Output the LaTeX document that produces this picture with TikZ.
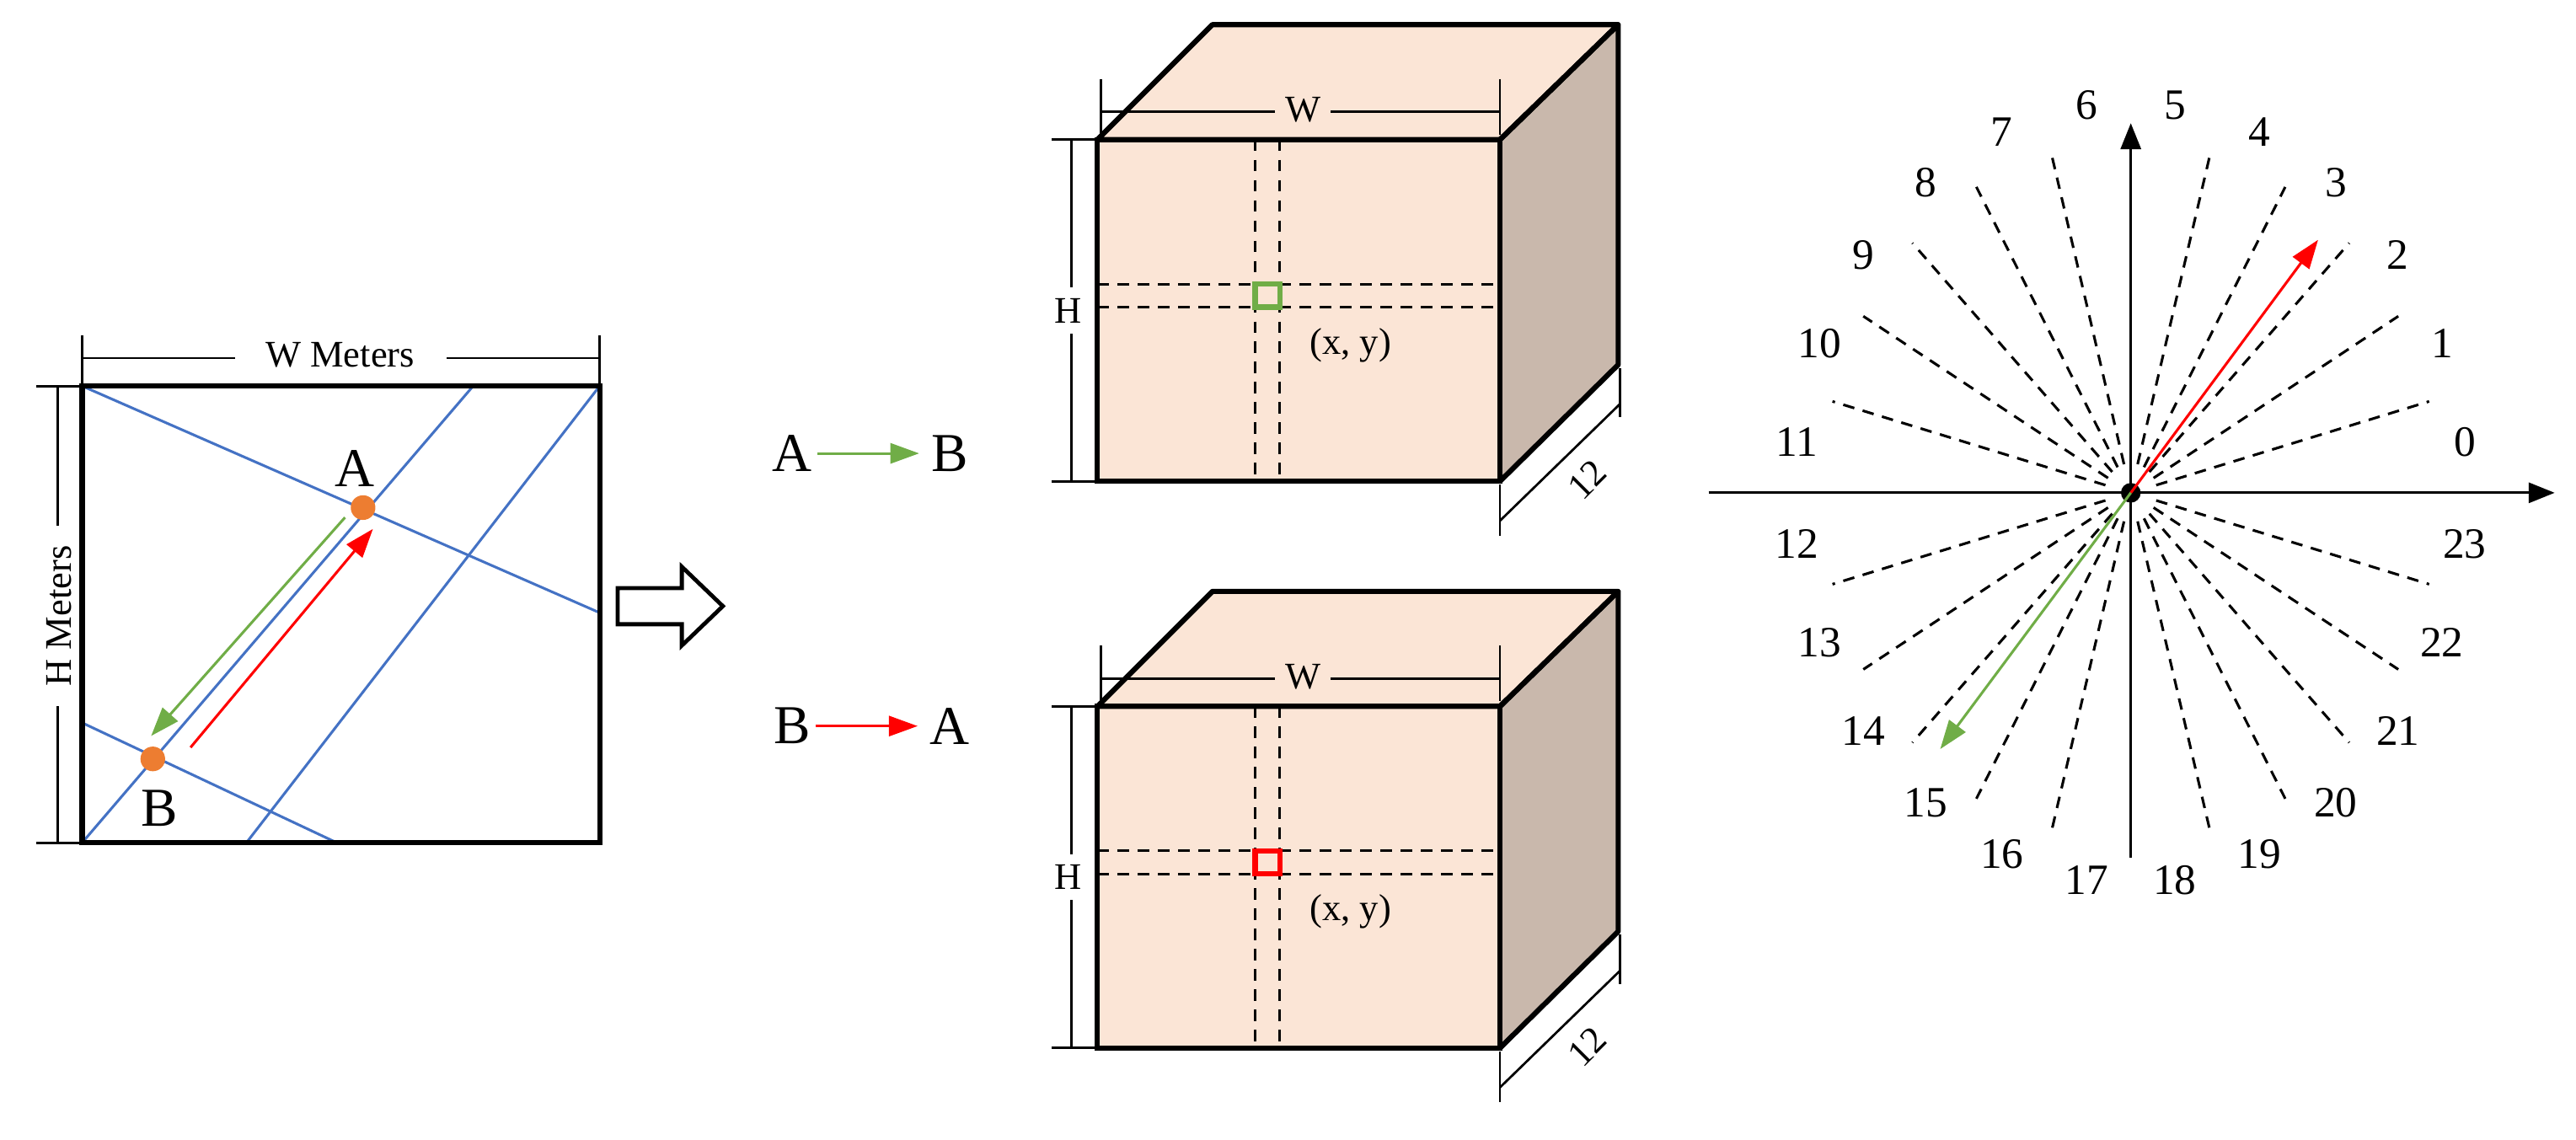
\documentclass[tikz,border=0pt]{standalone}
\usepackage{fontspec}
\setmainfont{Liberation Serif}
\usetikzlibrary{arrows.meta,calc}
\definecolor{blu}{HTML}{4472C4}
\definecolor{org}{HTML}{ED7D31}
\definecolor{grn}{HTML}{70AD47}
\definecolor{rd}{HTML}{FF0000}
\definecolor{face}{HTML}{FBE5D6}
\definecolor{side}{HTML}{C9B8AC}
\begin{document}
\begin{tikzpicture}[x=0.02cm,y=-0.02cm,
  border/.style={line width=1.8pt},
  dim/.style={line width=0.8pt},
  bl/.style={blu,line width=0.9pt},
  dsh/.style={dashed,line width=0.9pt,dash pattern=on 4pt off 3pt},
  lbl/.style={font=\fontsize{15}{15}\selectfont,inner sep=0pt},
  sm/.style={font=\fontsize{13}{13}\selectfont,inner sep=0pt},
  big/.style={font=\fontsize{19}{19}\selectfont,inner sep=0pt},
  harr/.style={-{Triangle[length=9pt,width=7pt]},line width=0.9pt}]
\useasboundingbox (0,0) rectangle (1568,693.5);
% ---------- left panel
\coordinate (tl) at (50,235); \coordinate (tr) at (365,235);
\coordinate (bl) at (50,513); \coordinate (br) at (365,513);
\draw[bl] (tl) -- (365,373);
\draw[bl] (50,440) -- (205,513);
\draw[bl] (bl) -- (288,235);
\draw[bl] (150,513) -- (tr);
\draw[border] (tl) rectangle (br);
\draw[dim] (50,204) -- (50,235) (365,204) -- (365,235);
\draw[dim] (50,218) -- (143,218) (272,218) -- (365,218);
\node[sm] (wm) at (207,216) {W Meters};
\draw[dim] (22,235) -- (50,235) (22,513) -- (50,513);
\draw[dim] (35,235) -- (35,320) (35,430) -- (35,513);
\node[sm,rotate=90] (hm) at (36,375) {H Meters};
\fill[org] (221,309) circle (7.5);
\fill[org] (93,462) circle (7.5);
\coordinate (A) at (221,309); \coordinate (B) at (93,462);
\node[big] (la) at (216,285) {A};
\node[big] (lb) at (97,492) {B};
\draw[grn,line width=0.9pt,-{Triangle[length=10pt,width=7pt]}] (210,315) -- (92,448);
\draw[rd,line width=0.9pt,-{Triangle[length=10pt,width=7pt]}] (116,455) -- (227,322);
% hollow arrow
\draw[line width=1.4pt,fill=white] (376,358) -- (415,358) -- (415,345) -- (440,369) -- (415,393) -- (415,380) -- (376,380) -- cycle;
% ---------- middle
\node[big] (a1) at (482,276) {A};
\node[big] (b1) at (578,276) {B};
\draw[grn,line width=0.9pt,-{Triangle[length=10pt,width=7pt]}] (a1.east) ++(3,0) -- ([xshift=-4]b1.west);
\node[big] (b2) at (482,442) {B};
\node[big] (a2) at (578,442) {A};
\draw[rd,line width=0.9pt,-{Triangle[length=10pt,width=7pt]}] (b2.east) ++(3,0) -- ([xshift=-4]a2.west);
% ---------- cubes
\foreach \dy/\col in {0/grn,345/rd}{
\begin{scope}[yshift=-\dy*0.02cm]
\fill[face] (668,85) -- (738,15) -- (985,15) -- (913,85) -- cycle;
\fill[face] (668,85) rectangle (913,293);
\fill[side] (913,85) -- (985,15) -- (985,222) -- (913,293) -- cycle;
\draw[dsh] (764,85) -- (764,293) (779,85) -- (779,293);
\draw[dsh] (668,173) -- (913,173) (668,187) -- (913,187);
\draw[\col,line width=1.8pt] (764,173) rectangle (779,187);
\draw[border,line join=round] (668,85) -- (738,15) -- (985,15) -- (913,85) -- cycle;
\draw[border] (668,85) rectangle (913,293);
\draw[border,line join=round] (913,85) -- (985,15) -- (985,222) -- (913,293);
\draw[dim] (670,48) -- (670,82) (913,48) -- (913,82);
\draw[dim] (670,68) -- (776,68) (810,68) -- (913,68);
\node[sm] at (793,67) {W};
\draw[dim] (640,85) -- (668,85) (640,293) -- (668,293);
\draw[dim] (652,85) -- (652,175) (652,203) -- (652,293);
\node[sm] at (650,189) {H};
\node[sm] at (822,210) {(x, y)};
\draw[dim] (913,295) -- (913,326) (986,224) -- (986,254);
\draw[dim] (913,317) -- (986,246);
\node[sm,rotate=45] at (966,292) {12};
\end{scope}}
% ---------- compass
\coordinate (O) at (1297,300);
\foreach \k in {1,2,3,4,5,7,8,9,10,11,13,14,15,16,17,19,20,21,22,23}{
  \draw[dsh] ($(O)+({16*cos(15*\k)},{-18*sin(15*\k)})$) -- ($(O)+({188*cos(15*\k)},{-215*sin(15*\k)})$);
}
\foreach \k in {0,...,23}{
  \node[lbl] at ($(O)+({205*cos(15*\k+7.5)},{-238*sin(15*\k+7.5)})$) {\k};
}
\coordinate (xl) at (1040,300); \coordinate (xr) at (1555,300);
\coordinate (yb) at (1297,522); \coordinate (yt) at (1297,75);
\draw[harr] (xl) -- (xr);
\draw[harr] (yb) -- (yt);
\fill (O) circle (6);
\draw[rd,line width=0.9pt,-{Triangle[length=10pt,width=7pt]}] (O) -- (1411,146);
\draw[grn,line width=0.9pt,-{Triangle[length=10pt,width=7pt]}] (O) -- (1181,456);
\end{tikzpicture}
\end{document}
